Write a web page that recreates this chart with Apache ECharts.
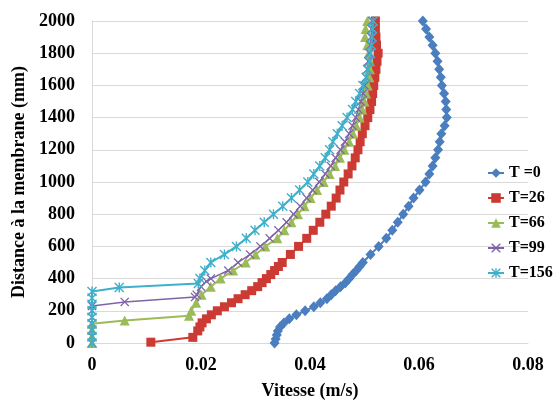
<!DOCTYPE html>
<html><head><meta charset="utf-8">
<script src="https://cdn.jsdelivr.net/npm/echarts@6/dist/echarts.min.js"></script>
<style>html,body{margin:0;padding:0;background:#fff}#c{width:559px;height:405px}</style>
</head><body><div id="c"></div>
<script>
// ---- data ----
var seriesNames = ['T =0', 'T=26', 'T=66', 'T=99', 'T=156'];
var xTicks = [0, 0.02, 0.04, 0.06, 0.08];
var yTicks = [0, 200, 400, 600, 800, 1000, 1200, 1400, 1600, 1800, 2000];

var depthT0 = [0,25,50,75,100,125,150,175,200,225,250,275,300,325,350,375,400,425,450,475,500,550,600,650,700,750,800,850,900,950,1000,1050,1100,1150,1200,1250,1300,1350,1400,1450,1500,1550,1600,1650,1700,1750,1800,1850,1900,1950,2000];
var velT0   = [0.0335,0.0337,0.0339,0.0341,0.0345,0.0352,0.0362,0.0375,0.0391,0.0407,0.0419,0.0431,0.0439,0.0447,0.0456,0.0465,0.0472,0.0478,0.0485,0.0491,0.0497,0.0511,0.0526,0.0540,0.0551,0.0561,0.0571,0.0581,0.0590,0.0601,0.0612,0.0619,0.0625,0.0630,0.0635,0.0638,0.0641,0.0647,0.0651,0.0650,0.0649,0.0646,0.0642,0.0640,0.0637,0.0634,0.0630,0.0625,0.0619,0.0613,0.0607];

var depthT26 = [5,35,75,100,125,150,175,200,225,250,275,300,325,350,375,400,425,450,475,500,550,600,650,700,750,800,850,900,950,1000,1050,1100,1150,1200,1250,1300,1350,1400,1450,1500,1550,1600,1650,1700,1750,1800,1850,1900,1950,2000];
var velT26   = [0.0108,0.0185,0.0194,0.0198,0.0202,0.0210,0.0219,0.0230,0.0243,0.0256,0.0268,0.0281,0.0293,0.0304,0.0312,0.0320,0.0328,0.0335,0.0342,0.0349,0.0364,0.0379,0.0394,0.0406,0.0418,0.0429,0.0439,0.0448,0.0455,0.0462,0.0470,0.0477,0.0483,0.0488,0.0492,0.0496,0.0501,0.0506,0.0510,0.0513,0.0515,0.0517,0.0519,0.0521,0.0523,0.0525,0.0522,0.0521,0.0520,0.0520];

var depthT66 = [0,40,80,120,140,170,200,250,300,350,400,450,500,550,600,650,700,750,800,850,900,950,1000,1050,1100,1150,1200,1250,1300,1350,1400,1450,1500,1550,1600,1650,1700,1750,1800,1850,1900,1950,2000];
var velT66   = [0,0,0,0,0.0060,0.0178,0.0182,0.0191,0.0201,0.0218,0.0236,0.0259,0.0282,0.0300,0.0318,0.0340,0.0353,0.0366,0.0378,0.0390,0.0401,0.0413,0.0425,0.0436,0.0446,0.0455,0.0463,0.0472,0.0479,0.0485,0.0491,0.0496,0.0500,0.0503,0.0506,0.0509,0.0510,0.0510,0.0508,0.0505,0.0501,0.0502,0.0505];

var depthT99 = [0,40,80,120,160,200,230,255,285,300,350,383,400,450,500,550,600,650,700,750,800,850,900,950,1000,1050,1100,1150,1200,1250,1300,1350,1400,1450,1500,1550,1600,1650,1700,1750,1800,1850,1900,1950,2000];
var velT99   = [0,0,0,0,0,0,0,0.0060,0.0189,0.0192,0.0200,0.0210,0.0218,0.0250,0.0268,0.0290,0.0309,0.0326,0.0342,0.0357,0.0370,0.0382,0.0394,0.0405,0.0417,0.0428,0.0438,0.0447,0.0456,0.0464,0.0472,0.0478,0.0484,0.0489,0.0493,0.0497,0.0500,0.0503,0.0505,0.0507,0.0509,0.0511,0.0512,0.0513,0.0514];

var depthT156 = [0,40,80,120,160,200,240,280,320,345,370,400,450,500,550,600,650,700,750,800,850,900,950,1000,1050,1100,1150,1200,1250,1300,1350,1400,1450,1500,1550,1600,1650,1700,1750,1800,1850,1900,1950,2000];
var velT156   = [0,0,0,0,0,0,0,0,0,0.0050,0.0195,0.0198,0.0207,0.0218,0.0243,0.0265,0.0283,0.0299,0.0316,0.0333,0.0350,0.0366,0.0381,0.0396,0.0407,0.0418,0.0428,0.0436,0.0442,0.0450,0.0459,0.0468,0.0478,0.0484,0.0491,0.0497,0.0503,0.0506,0.0509,0.0511,0.0513,0.0514,0.0515,0.0516];

// ---- build ----
function pairs(v, d) { return v.map(function (x, i) { return [x, d[i]]; }); }
var colors = ['#4a7ebf', '#cc3b33', '#9bbb59', '#7f62a8', '#3fb0c9'];
var xSym = 'path://M0,1 L1,0 L5,4 L9,0 L10,1 L6,5 L10,9 L9,10 L5,6 L1,10 L0,9 L4,5 Z';
var starSym = 'path://M0,1 L1,0 L5,4 L9,0 L10,1 L6,5 L10,9 L9,10 L5,6 L1,10 L0,9 L4,5 Z M4.3,0 L5.7,0 L5.7,10 L4.3,10 Z';
var syms = ['diamond', 'rect', 'triangle', xSym, starSym];
var symSizes = [[10, 11], 9, 10, 9, 10];
var lineW = [2, 2, 2, 1.5, 2];
var allData = [pairs(velT0, depthT0), pairs(velT26, depthT26), pairs(velT66, depthT66), pairs(velT99, depthT99), pairs(velT156, depthT156)];

var series = seriesNames.map(function (n, i) {
  return {
    name: n, type: 'line', data: allData[i],
    symbol: syms[i], symbolSize: symSizes[i], showAllSymbol: true,
    lineStyle: { color: colors[i], width: lineW[i] },
    itemStyle: { color: colors[i] },
    animation: false
  };
});

var font = '"Liberation Serif", "Times New Roman", serif';
var chart = echarts.init(document.getElementById('c'));
chart.setOption({
  animation: false,
  color: colors,
  grid: { left: 92, right: 31, top: 21, bottom: 55 },
  xAxis: {
    type: 'value', min: xTicks[0], max: xTicks[xTicks.length - 1], interval: 0.02,
    name: 'Vitesse (m/s)', nameLocation: 'middle', nameGap: 39,
    nameTextStyle: { fontFamily: font, fontWeight: 'bold', fontSize: 18, color: '#000' },
    axisLine: { show: true, lineStyle: { color: '#d9d9d9' } },
    axisTick: { show: false },
    splitLine: { show: false },
    axisLabel: { fontFamily: font, fontWeight: 'bold', fontSize: 18, color: '#000', margin: 13 }
  },
  yAxis: {
    type: 'value', min: yTicks[0], max: yTicks[yTicks.length - 1], interval: 200,
    name: 'Distance à la membrane (mm)', nameLocation: 'middle', nameGap: 62, nameRotate: 90,
    nameTextStyle: { fontFamily: font, fontWeight: 'bold', fontSize: 18, color: '#000' },
    axisLine: { show: true, lineStyle: { color: '#d9d9d9' } },
    axisTick: { show: false },
    splitLine: { show: true, lineStyle: { color: '#d9d9d9', width: 1 } },
    axisLabel: { fontFamily: font, fontWeight: 'bold', fontSize: 18, color: '#000', margin: 17,
      formatter: function (v) { return String(v); } }
  },
  legend: {
    orient: 'vertical', left: 482, top: 160, itemWidth: 16, itemHeight: 12, itemGap: 9,
    data: seriesNames,
    textStyle: { fontFamily: font, fontWeight: 'bold', fontSize: 16, color: '#000', lineHeight: 16 }
  },
  series: series
});
</script></body></html>
